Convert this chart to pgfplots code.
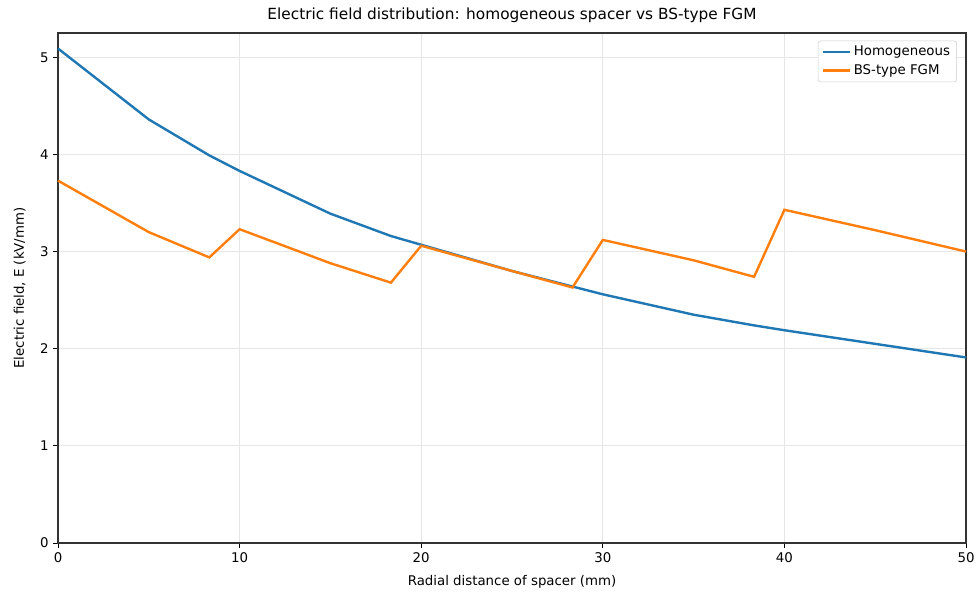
\documentclass[border=0pt]{standalone}
\usepackage{pgfplots}
\pgfplotsset{compat=1.18}
\usepackage{fontspec}
\setmainfont{DejaVu Sans}
\definecolor{mplblue}{HTML}{1F77B4}
\definecolor{mplorange}{HTML}{FF7F0E}
\definecolor{gridgray}{HTML}{E6E6E6}

\begin{document}
\begin{tikzpicture}[x=0.75pt,y=0.75pt]
\begin{axis}[
    scale only axis,
    width=681pt, height=382.5pt,
    xmin=0, xmax=50, ymin=0, ymax=5.25,
    xtick={0,10,...,50}, ytick={0,1,...,5},
    xtick pos=bottom, ytick pos=left,
    tick align=outside,
    major tick length=3.5pt,
    tick style={black, line width=0.6pt},
    axis line style={black!80, line width=0.8pt},
    grid=major,
    grid style={gridgray, line width=0.6pt},
    /pgf/number format/assume math mode=true,
    ticklabel style={font=\fontsize{10}{12}\selectfont},
    title={Electric field distribution: homogeneous spacer vs BS-type FGM},
    title style={font=\fontsize{11.5}{13}\selectfont, yshift=-2pt},
    xlabel={Radial distance of spacer (mm)},
    ylabel={Electric field, E (kV/mm)},
    label style={font=\fontsize{10}{12}\selectfont},
    xlabel style={yshift=-3pt},
    ylabel style={yshift=4pt},
    legend style={font=\fontsize{10}{12}\selectfont, draw=black!20,
        rounded corners=2pt, at={(0.99,0.985)}, anchor=north east,
        inner xsep=3pt, inner ysep=2pt, row sep=1pt},
    legend cell align=left,
    legend image code/.code={\draw[#1, line width=1.8pt] (0pt,0pt) -- (20pt,0pt);},
    clip=false,
]
\addplot[mplblue, line width=1.8pt] coordinates {
    (0,5.09) (5,4.36) (8.33,3.99) (10,3.83) (15,3.39) (18.33,3.16)
    (20,3.07) (25,2.80) (28.33,2.64) (30,2.56) (35,2.35) (38.33,2.24)
    (40,2.19) (45,2.05) (50,1.91)
};
\addlegendentry{Homogeneous}
\addplot[mplorange, line width=1.8pt] coordinates {
    (0,3.73) (5,3.20) (8.33,2.94) (10,3.23) (15,2.88) (18.33,2.68)
    (20,3.06) (25,2.80) (28.33,2.63) (30,3.12) (35,2.91) (38.33,2.74)
    (40,3.43) (45,3.22) (50,3.00)
};
\addlegendentry{BS-type FGM}
\coordinate (bl) at (rel axis cs:-0.0639,-0.102);
\coordinate (tr) at (rel axis cs:1.0143,1.0647);
\end{axis}
\pgfresetboundingbox
\path[use as bounding box] (bl) rectangle (tr);
\end{tikzpicture}
\end{document}
